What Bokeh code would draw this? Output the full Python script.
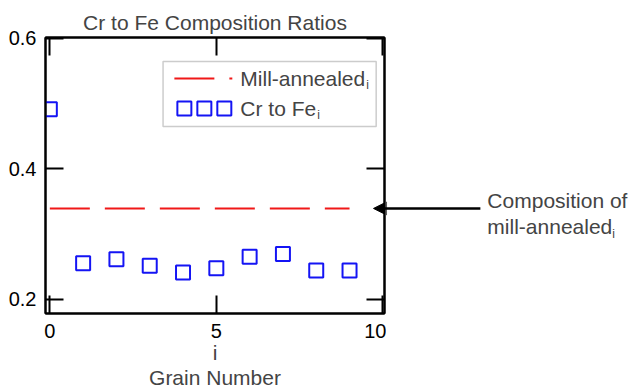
from bokeh.plotting import figure
from bokeh.layouts import row
from bokeh.models import (LinearAxis, FixedTicker, Range1d, Label, Arrow,
                          NormalHead, BoxAnnotation, CustomJSTickFormatter)
from bokeh.embed import file_html
from bokeh.resources import INLINE

# Cr/Fe composition ratio per grain, compared with the mill-annealed material
grain = [0, 1, 2, 3, 4, 5, 6, 7, 8, 9]
cr_to_fe = [0.491, 0.255, 0.261, 0.251, 0.241, 0.2475, 0.265, 0.269, 0.244, 0.244]
mill_annealed = [0.339, 0.339, 0.339, 0.339, 0.339, 0.339, 0.339, 0.339, 0.339, 0.339]

x_ticks = [0, 5, 10]
y_ticks = [0.2, 0.4, 0.6]

title_text = "Cr to Fe Composition Ratios"
x_label = "i\nGrain Number"
legend_labels = ["Mill-annealed", "Cr to Fe"]
note_lines = ["Composition of", "mill-annealed"]

FONT = "Liberation Sans"
RED = "#f01818"
BLUE = "#1414f4"

p = figure(frame_width=339, frame_height=276,
           x_range=Range1d(-0.13, 10.05), y_range=Range1d(0.178, 0.601),
           output_backend="svg", toolbar_location=None,
           min_border_left=45, min_border_right=2,
           min_border_top=37, min_border_bottom=76)
p.background_fill_color = "white"
p.border_fill_color = "white"
p.grid.visible = False
p.outline_line_color = "black"
p.outline_line_width = 2

p.title.text = title_text
p.title.align = "center"
p.title.text_font = FONT
p.title.text_font_size = "21px"
p.title.text_font_style = "normal"
p.title.standoff = 7
p.title.offset = 0


def style_axis(ax, ticks, show_labels):
    ax.ticker = FixedTicker(ticks=ticks)
    ax.major_tick_in = 18
    ax.major_tick_out = 0
    ax.minor_tick_line_color = None
    ax.major_tick_line_width = 2
    ax.major_tick_line_color = "black"
    ax.axis_line_width = 2
    ax.axis_line_color = "black"
    ax.major_label_text_font = FONT
    ax.major_label_text_color = "black"
    ax.major_label_text_font_size = "20px"
    if not show_labels:
        # tick marks only on the opposite sides of the box
        ax.formatter = CustomJSTickFormatter(code="return ''")
        ax.major_label_standoff = 0


style_axis(p.xaxis[0], x_ticks, True)
style_axis(p.yaxis[0], y_ticks, True)
p.xaxis.major_label_standoff = 10
p.yaxis.major_label_standoff = 9
p.xaxis.axis_label = x_label
p.xaxis.axis_label_text_font = FONT
p.xaxis.axis_label_text_font_size = "21px"
p.xaxis.axis_label_text_font_style = "normal"
p.xaxis.axis_label_text_line_height = 1.12
p.xaxis.axis_label_standoff = 0

top_axis = LinearAxis()
style_axis(top_axis, x_ticks, False)
p.add_layout(top_axis, "above")
right_axis = LinearAxis()
style_axis(right_axis, y_ticks, False)
p.add_layout(right_axis, "right")

# mill-annealed reference level and the per-grain ratios
p.line(grain, mill_annealed, line_color=RED, line_width=2, line_dash="40 15")
p.scatter(grain, cr_to_fe, marker="square", size=14, fill_color=None,
          line_color=BLUE, line_width=2)

# legend box
p.add_layout(BoxAnnotation(left=3.40, right=9.80, bottom=0.4646, top=0.5642,
                           fill_color="white", fill_alpha=1.0,
                           line_color="#555555", line_width=1.5,
                           level="underlay"))
p.line([3.74, 5.48], [0.5382, 0.5382], line_color=RED, line_width=2,
       line_dash="40 15")
p.scatter([4.04, 4.64, 5.24], [0.4922, 0.4922, 0.4922], marker="square",
          size=14, fill_color=None, line_color=BLUE, line_width=2)
for text, y, sub_dx in [(legend_labels[0], 0.5382, 126), (legend_labels[1], 0.4922, 77)]:
    p.add_layout(Label(x=5.72, y=y, text=text, text_font=FONT,
                       text_font_size="21px", text_baseline="middle"))
    p.add_layout(Label(x=5.72, y=y, x_offset=sub_dx, y_offset=-7, text="i",
                       text_font=FONT, text_font_size="12px",
                       text_baseline="middle"))


def callout_arrow():
    return Arrow(end=NormalHead(size=13, fill_color="black", line_color="black"),
                 x_start=12.93, y_start=mill_annealed[0],
                 x_end=9.72, y_end=mill_annealed[0],
                 line_color="black", line_width=2.5)


# tip of the callout arrow inside the box
p.add_layout(callout_arrow())

# panel to the right of the box carrying the callout text, on the same scales
side = figure(frame_width=245, frame_height=276,
              x_range=Range1d(10.11, 17.47), y_range=p.y_range,
              output_backend="svg", toolbar_location=None,
              x_axis_location=None, y_axis_location=None,
              min_border_left=0, min_border_right=0,
              min_border_top=37, min_border_bottom=76)
side.grid.visible = False
side.outline_line_color = None
side.background_fill_color = "white"
side.border_fill_color = "white"
side.add_layout(callout_arrow())
side.add_layout(Label(x=13.14, y=0.3512, text=note_lines[0], text_font=FONT,
                      text_font_size="21px", text_baseline="middle"))
side.add_layout(Label(x=13.14, y=0.3113, text=note_lines[1], text_font=FONT,
                      text_font_size="21px", text_baseline="middle"))
side.add_layout(Label(x=13.14, y=0.3113, x_offset=125, y_offset=-7, text="i",
                      text_font=FONT, text_font_size="12px",
                      text_baseline="middle"))

layout = row(p, side, spacing=0)
open("out.html", "w").write(file_html(layout, INLINE))
